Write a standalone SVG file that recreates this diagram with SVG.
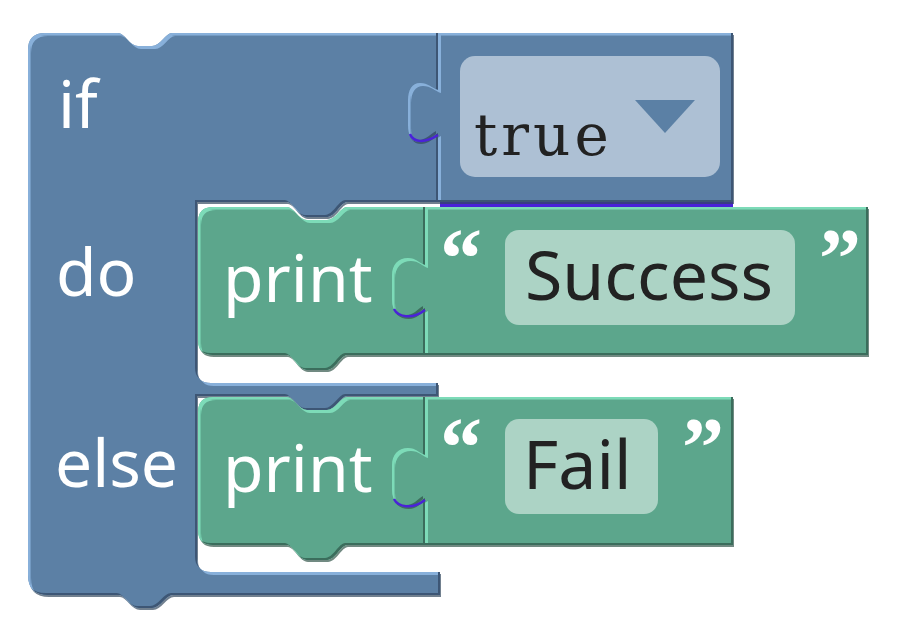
<svg xmlns="http://www.w3.org/2000/svg" width="918" height="642" viewBox="0 0 918 642">
<defs>
<style>
.lbl{font-family:"Noto Sans","Open Sans",sans-serif;font-size:66px;fill:#ffffff}
.fld{font-family:"Noto Sans","Open Sans",sans-serif;font-size:68px;fill:#222222}
.mono{font-family:"DejaVu Serif","Liberation Serif",serif;font-size:58px;letter-spacing:4px;fill:#222222}
.q{font-family:"Liberation Serif",serif;font-weight:bold;font-size:84px;fill:#ffffff}
.blue{fill:#5b80a5;filter:url(#bevB)}
.green{fill:#5ba68c;filter:url(#bevG)}
.bfield{fill:#adc0d4}
.gfield{fill:#acd3c5}
.art{fill:none;stroke:#4a22d8;stroke-width:2.5}
</style>
<filter id="bevB" x="-5%" y="-5%" width="110%" height="115%">
  <feOffset in="SourceAlpha" dx="2.5" dy="2.5" result="a1"/>
  <feComposite in="SourceAlpha" in2="a1" operator="out" result="e1"/>
  <feFlood flood-color="#88b0da"/>
  <feComposite in2="e1" operator="in" result="hi"/>
  <feOffset in="SourceAlpha" dx="-2.5" dy="-2.5" result="a2"/>
  <feComposite in="SourceAlpha" in2="a2" operator="out" result="e2"/>
  <feFlood flood-color="#3e5774"/>
  <feComposite in2="e2" operator="in" result="lo"/>
  <feOffset in="SourceAlpha" dx="0.5" dy="2" result="a3"/>
  <feComposite in="a3" in2="SourceAlpha" operator="out" result="e3"/>
  <feFlood flood-color="#34495f" flood-opacity="0.7"/>
  <feComposite in2="e3" operator="in" result="drop"/>
  <feMerge><feMergeNode in="drop"/><feMergeNode in="SourceGraphic"/><feMergeNode in="hi"/><feMergeNode in="lo"/></feMerge>
</filter>
<filter id="bevG" x="-5%" y="-5%" width="110%" height="115%">
  <feOffset in="SourceAlpha" dx="2.5" dy="2.5" result="a1"/>
  <feComposite in="SourceAlpha" in2="a1" operator="out" result="e1"/>
  <feFlood flood-color="#7ddbb8"/>
  <feComposite in2="e1" operator="in" result="hi"/>
  <feOffset in="SourceAlpha" dx="-2.5" dy="-2.5" result="a2"/>
  <feComposite in="SourceAlpha" in2="a2" operator="out" result="e2"/>
  <feFlood flood-color="#3b6d5c"/>
  <feComposite in2="e2" operator="in" result="lo"/>
  <feOffset in="SourceAlpha" dx="0.5" dy="2" result="a3"/>
  <feComposite in="a3" in2="SourceAlpha" operator="out" result="e3"/>
  <feFlood flood-color="#34584b" flood-opacity="0.7"/>
  <feComposite in2="e3" operator="in" result="drop"/>
  <feMerge><feMergeNode in="drop"/><feMergeNode in="SourceGraphic"/><feMergeNode in="hi"/><feMergeNode in="lo"/></feMerge>
</filter>
</defs>
<rect width="918" height="642" fill="#ffffff"/>

<g id="if-block">
  <path class="blue" d="M28,50 Q28,33 45,33 L118,33 C124,33 130,46 138,46 L152,46 C160,46 166,33 172,33 L438,33 L438,202 L347,202 C341,202 335,217 327,217 L307,217 C299,217 293,202 287,202 L197,202 L197,370 Q197,383 211,383 L438,383 L438,396 L347,396 C341,396 335,410 327,410 L307,410 C299,410 293,396 287,396 L197,396 L197,559 Q197,572 211,572 L440,572 L440,595 L173,595 C166,595 160,608 152,608 L139,608 C131,608 125,595 119,595 L48,595 Q28,595 28,575 Z"/>
  <text class="lbl" x="58" y="128">if</text>
  <text class="lbl" x="56" y="296">do</text>
  <text class="lbl" x="55" y="487">else</text>
</g>

<g id="true-block">
  <rect x="440" y="202" width="293" height="5" fill="#4a22d8"/>
  <path class="blue" d="M438,33 L733,33 L733,202 L438,202 L438,133 C432,136 428,142 420,142 C412,142 408,136 408,125 L408,100 C408,90 412,83 420,83 C428,83 432,88 438,90 Z"/>
  <path class="art" d="M410,134 C413,142 424,144 438,135"/>
  <rect class="bfield" x="460" y="56" width="260" height="121" rx="15"/>
  <text class="mono" x="474" y="155">true</text>
  <path d="M635,100 L695,100 L665,133 Z" fill="#5b80a5"/>
</g>

<g id="print-success">
  <path class="green" d="M198,222 Q198,207 213,207 L287,207 C293,207 299,220 307,220 L327,220 C335,220 341,207 347,207 L425,207 L425,355 L347,355 C341,355 335,370 327,370 L307,370 C299,370 293,355 287,355 L213,355 Q198,355 198,340 Z"/>
  <text class="lbl" x="223" y="302">print</text>
</g>

<g id="text-success">
  <path class="green" d="M425,207 L868,207 L868,355 L425,355 L425,308 C419,311 416,317 408,317 C398,317 392,311 392,300 L392,275 C392,265 398,258 408,258 C416,258 419,263 425,265 Z"/>
  <path class="art" d="M394,309 C398,317 412,320 425,310"/>
  <text class="q" x="440" y="287">“</text>
  <rect class="gfield" x="505" y="230" width="290" height="95" rx="14"/>
  <text class="fld" x="525" y="300">Success</text>
  <text class="q" x="819" y="287">”</text>
</g>

<g id="print-fail">
  <path class="green" d="M198,412 Q198,397 213,397 L287,397 C293,397 299,410 307,410 L327,410 C335,410 341,397 347,397 L425,397 L425,545 L347,545 C341,545 335,560 327,560 L307,560 C299,560 293,545 287,545 L213,545 Q198,545 198,530 Z"/>
  <text class="lbl" x="223" y="492">print</text>
</g>

<g id="text-fail">
  <path class="green" d="M425,397 L733,397 L733,545 L425,545 L425,498 C419,501 416,507 408,507 C398,507 392,501 392,490 L392,465 C392,455 398,448 408,448 C416,448 419,453 425,455 Z"/>
  <path class="art" d="M394,499 C398,507 412,510 425,500"/>
  <text class="q" x="440" y="476">“</text>
  <rect class="gfield" x="505" y="419" width="153" height="95" rx="14"/>
  <text class="fld" x="523" y="489">Fail</text>
  <text class="q" x="682" y="476">”</text>
</g>

<g id="connectors"></g>
</svg>
